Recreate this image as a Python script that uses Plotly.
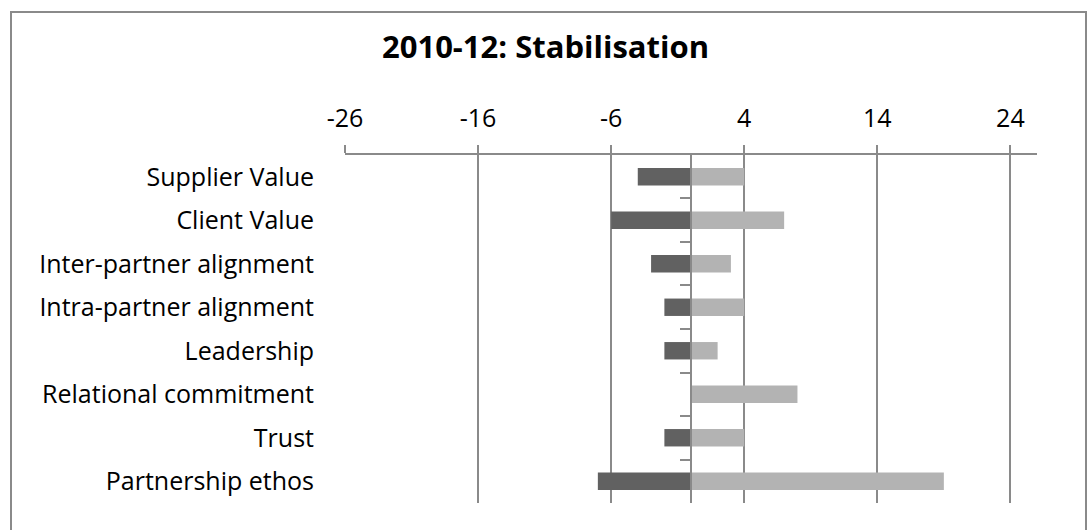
import plotly.graph_objects as go

# Partnership dimensions, top to bottom
categories = [
    "Supplier Value",
    "Client Value",
    "Inter-partner alignment",
    "Intra-partner alignment",
    "Leadership",
    "Relational commitment",
    "Trust",
    "Partnership ethos",
]
negative_scores = [-4, -6, -3, -2, -2, 0, -2, -7]
positive_scores = [4, 7, 3, 4, 2, 8, 4, 19]
tick_values = [-26, -16, -6, 4, 14, 24]
tick_labels = ["-26", "-16", "-6", "4", "14", "24"]
axis_range = [-26, 26]

GRID = "#8a8a8a"
FONT = "Open Sans"

fig = go.Figure()
fig.add_trace(go.Bar(
    y=categories, x=negative_scores, orientation="h",
    marker=dict(color="#616161", line=dict(width=0)),
    width=0.4, showlegend=False, hoverinfo="x+y",
))
fig.add_trace(go.Bar(
    y=categories, x=positive_scores, orientation="h",
    marker=dict(color="#b3b3b3", line=dict(width=0)),
    width=0.4, showlegend=False, hoverinfo="x+y",
))
# invisible trace carrying the categories for the centre axis
fig.add_trace(go.Scatter(
    y=categories, x=[0] * len(categories), yaxis="y2",
    mode="markers", marker=dict(opacity=0), showlegend=False, hoverinfo="skip",
))

fig.update_layout(
    width=1091, height=530,
    margin=dict(l=345, r=54, t=155, b=27),
    paper_bgcolor="white", plot_bgcolor="white",
    barmode="relative",
    font=dict(family=FONT, color="black"),
    title=dict(
        text="<b>2010-12: Stabilisation</b>",
        x=0.5, xref="container", xanchor="center",
        y=1 - 47 / 530, yref="container", yanchor="middle",
        font=dict(family=FONT, size=31, color="black"),
    ),
    xaxis=dict(
        side="top", range=axis_range, tickvals=tick_values, ticktext=tick_labels,
        showgrid=True, gridcolor=GRID, gridwidth=2,
        showline=True, linecolor=GRID, linewidth=2,
        ticks="outside", ticklen=8, tickwidth=2, tickcolor=GRID,
        zeroline=False, ticklabelstandoff=8,
        tickfont=dict(family=FONT, size=25, color="black"),
        automargin=False, fixedrange=True,
    ),
    yaxis=dict(
        type="category", categoryorder="array", categoryarray=categories,
        autorange="reversed", showgrid=False, showline=False, zeroline=False,
        ticks="", ticklabelstandoff=30,
        tickfont=dict(family=FONT, size=25, color="black"),
        automargin=False, fixedrange=True,
    ),
    yaxis2=dict(
        type="category", categoryorder="array", categoryarray=categories,
        autorange="reversed", overlaying="y", anchor="free", position=0.5,
        side="left", showgrid=False, zeroline=False,
        showline=True, linecolor=GRID, linewidth=2,
        ticks="outside", tickson="boundaries", ticklen=10, tickwidth=2,
        tickcolor=GRID, showticklabels=False,
        automargin=False, fixedrange=True,
    ),
    shapes=[dict(
        type="rect", xref="paper", yref="paper",
        x0=(11 - 345) / 692, x1=(1086 - 345) / 692,
        y0=(530 - 27 - 540) / 348, y1=(530 - 27 - 12) / 348,
        line=dict(color=GRID, width=2), fillcolor="rgba(0,0,0,0)", layer="below",
    )],
)

fig.write_html("out.html")
